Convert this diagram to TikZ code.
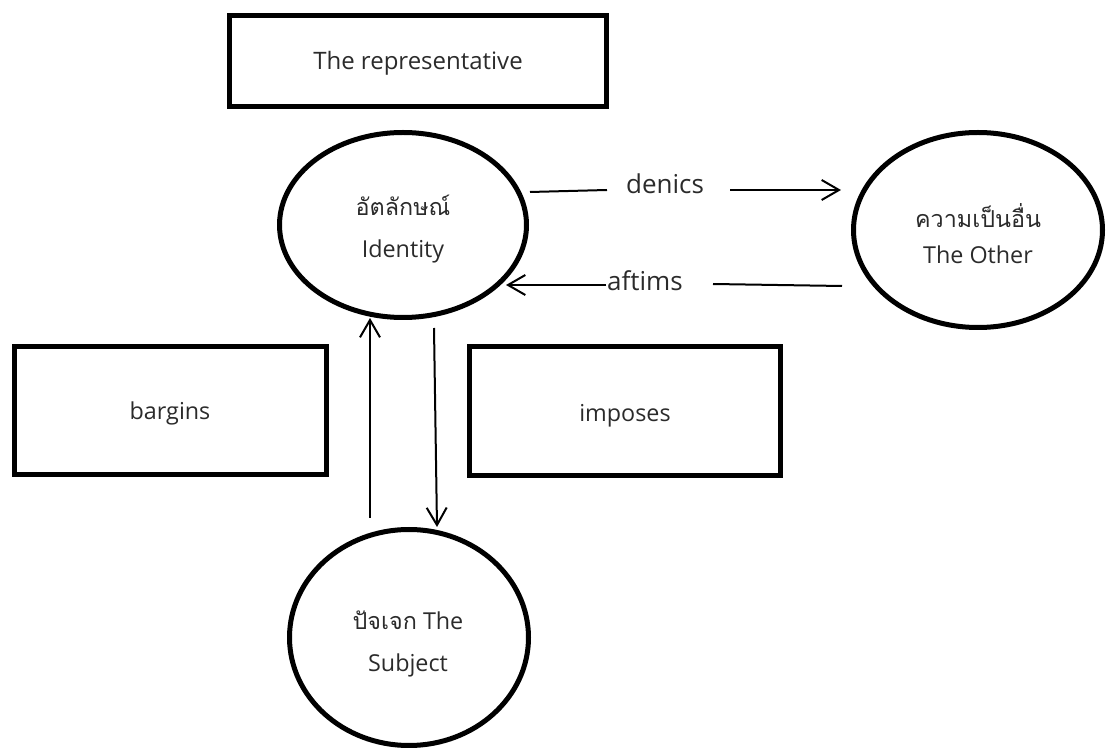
\documentclass[tikz,border=0pt]{standalone}
\usepackage{fontspec}
\setmainfont{Open Sans}
\newfontfamily\thaifont[Script=Thai]{Loma}
\usetikzlibrary{shapes.geometric,arrows.meta}
\definecolor{inkgray}{HTML}{2B2B2B}
\tikzset{
  box/.style={draw=black, line width=3.75pt, rectangle, inner sep=0pt},
  blob/.style={draw=black, line width=3.75pt, ellipse, inner sep=0pt},
  txt/.style={inner sep=0pt, align=center, text=inkgray,
              font=\fontsize{17.5}{31.5}\selectfont},
  lbl/.style={inner sep=0pt, text=inkgray, font=\fontsize{19.5}{23}\selectfont},
  conn/.style={line width=1.5pt, draw=black},
  tip/.style={conn, -{Straight Barb[length=13pt,width=15pt,line width=1.5pt]}},
}
\begin{document}
\begin{tikzpicture}[x=0.75pt,y=-0.75pt]
\useasboundingbox (0,0) rectangle (1108,748);

% boxes
\node[box, minimum width=282.75pt, minimum height=68.25pt] (rep) at (418,61) {};
\node[box, minimum width=234pt, minimum height=96pt] (barg) at (170.5,410.5) {};
\node[box, minimum width=233.25pt, minimum height=96.75pt] (imp) at (625,411) {};
\node[txt, font=\fontsize{18}{31.5}\selectfont] (rep-t) at (418,63) {The representative};
\node[txt] (barg-t) at (170,413) {bargins};
\node[txt] (imp-t) at (625,416) {imposes};

% ellipses
\node[blob, minimum width=185.25pt, minimum height=138.75pt] (id) at (403,225) {};
\node[blob, minimum width=186.75pt, minimum height=146.25pt] (other) at (978,230) {};
\node[blob, minimum width=179.25pt, minimum height=162pt] (subj) at (409,637.5) {};
\node[txt] (id-t) at (403,229) {{\thaifont อัตลักษณ์}\\Identity};
\node[txt] (other-t) at (978,234) {{\thaifont ความเป็นอื่น}\\[-4.5pt]The Other};
\node[txt] (subj-t) at (408,644) {{\thaifont ปัจเจก} The\\Subject};

% labels on the horizontal links
\node[lbl] (denics) at (665,184) {denics};
\node[lbl] (aftims) at (645,281) {aftims};

% link end points
\coordinate (d1) at (530,192);
\coordinate (d2) at (607,190);
\coordinate (d3) at (730,190);
\coordinate (d4) at (841,190);
\coordinate (a1) at (606,285);
\coordinate (a2) at (506,285);
\coordinate (a3) at (713,284);
\coordinate (a4) at (842,286);
\coordinate (u1) at (370,518);
\coordinate (u2) at (370,318);
\coordinate (v1) at (434,328);
\coordinate (v2) at (437,527);

% Identity -> The Other
\draw[conn] (d1) -- (d2);
\draw[tip] (d3) -- (d4);
% The Other -> Identity
\draw[conn] (a4) -- (a3);
\draw[tip] (a1) -- (a2);
% Subject <-> Identity
\draw[tip] (u1) -- (u2);
\draw[tip] (v1) -- (v2);
\end{tikzpicture}
\end{document}
